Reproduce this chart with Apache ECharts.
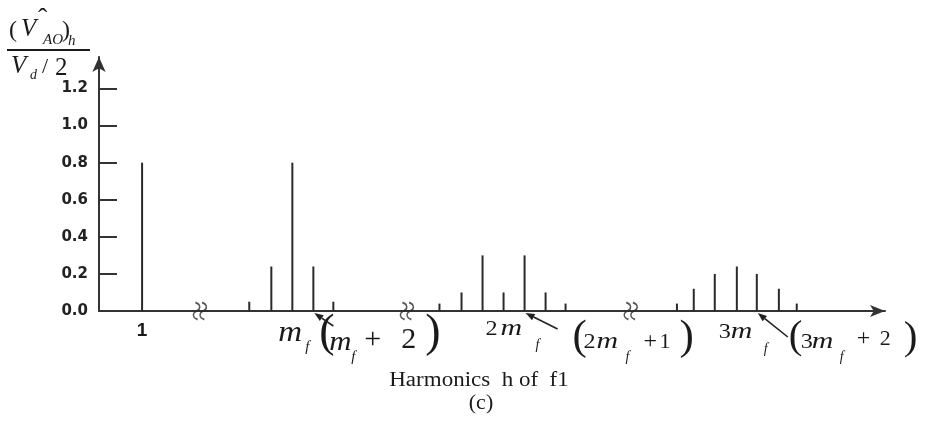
<!DOCTYPE html>
<html>
<head>
<meta charset="utf-8">
<script src="https://cdn.jsdelivr.net/npm/echarts@6/dist/echarts.min.js"></script>
<style>
html,body{margin:0;padding:0;background:#fff;}
#main{width:925px;height:421px;}
</style>
</head>
<body>
<div id="main"></div>
<script>
// positions on the broken harmonic axis (slot units) and amplitudes (V_AO)h / (Vd/2)
var fundPos = [2.05];
var fundVal = [0.8];
var mfPos = [7.15, 8.2, 9.2, 10.2, 11.15];
var mfVal = [0.05, 0.24, 0.8, 0.24, 0.05];
var mf2Pos = [16.2, 17.25, 18.25, 19.25, 20.25, 21.25, 22.2];
var mf2Val = [0.04, 0.1, 0.3, 0.1, 0.3, 0.1, 0.04];
var mf3Pos = [27.5, 28.3, 29.3, 30.35, 31.3, 32.35, 33.2];
var mf3Val = [0.04, 0.12, 0.2, 0.24, 0.2, 0.12, 0.04];
var breakPos = [4.8, 14.65, 25.3];
var yTicks = [0, 0.2, 0.4, 0.6, 0.8, 1.0, 1.2];
var xLabelPos = [2.05];
var xLabelText = ['1'];

var serif = '"Liberation Serif", "Times New Roman", serif';
var ink = '#1a1a1a';

function pairs(xs, ys) {
	return xs.map(function (x, i) { return [x, ys[i]]; });
}
var barData = [].concat(pairs(fundPos, fundVal), pairs(mfPos, mfVal), pairs(mf2Pos, mf2Val), pairs(mf3Pos, mf3Val));

var chart = echarts.init(document.getElementById('main'));
var option = {
	backgroundColor: '#fff',
	animation: false,
	grid: {left: 99, right: 40, top: 57, bottom: 110},
	xAxis: {
		type: 'value',
		min: 0,
		max: 37.4,
		splitLine: {show: false},
		axisTick: {show: false},
		axisLine: {show: true, symbol: ['none', 'arrow'], symbolSize: [9, 15], lineStyle: {color: '#333', width: 2}},
		axisLabel: {
			customValues: xLabelPos,
			margin: 10,
			fontFamily: 'Liberation Sans',
			fontWeight: 'bold',
			fontSize: 19,
			color: ink,
			formatter: function (v) { return xLabelText[xLabelPos.indexOf(v)] || ''; }
		}
	},
	yAxis: {
		type: 'value',
		min: 0,
		max: 1.37,
		splitLine: {show: false},
		axisLine: {show: true, symbol: ['none', 'arrow'], symbolSize: [10, 15], lineStyle: {color: '#333', width: 2}},
		axisTick: {show: true, inside: true, length: 18, customValues: yTicks.slice(1), lineStyle: {color: '#333', width: 2}},
		axisLabel: {
			customValues: yTicks,
			margin: 11,
			fontFamily: 'DejaVu Sans',
			fontWeight: 'bold',
			fontSize: 15,
			color: '#222',
			formatter: function (v) { return v.toFixed(1); }
		}
	},
	series: [
		{
			type: 'bar',
			data: barData,
			barWidth: 2,
			itemStyle: {color: '#2a2a2a'},
			silent: true
		},
		{
			type: 'scatter',
			data: breakPos.map(function (p) { return [p, 0]; }),
			symbol: 'path://M4,0 C9,2 9,6 5,8 C1,10 1,14 6,16 M10,0 C15,2 15,6 11,8 C7,10 7,14 12,16',
			symbolSize: [13, 17],
			itemStyle: {color: 'rgba(0,0,0,0)', borderColor: '#2a2a2a', borderWidth: 1.6},
			z: 5,
			silent: true
		}
	]
};
chart.setOption(option);

function px(x, y) { return chart.convertToPixel({gridIndex: 0}, [x, y]); }

function txt(x, base, s, size, italic, sx, align) {
	return {
		type: 'text', x: x, y: base - 0.34 * size, scaleX: sx || 1, silent: true,
		style: {text: s, fontFamily: serif, fontSize: size, fontStyle: italic ? 'italic' : 'normal',
			fill: ink, align: align || 'left', verticalAlign: 'middle'}
	};
}

function arrow(tip, tail) {
	var dx = tip[0] - tail[0], dy = tip[1] - tail[1];
	var L = Math.sqrt(dx * dx + dy * dy), ux = dx / L, uy = dy / L;
	var hl = 9, hw = 3.5;
	var bx = tip[0] - ux * hl, by = tip[1] - uy * hl;
	return [
		{type: 'line', silent: true, shape: {x1: tail[0], y1: tail[1], x2: bx, y2: by}, style: {stroke: '#222', lineWidth: 1.6}},
		{type: 'polygon', silent: true, shape: {points: [tip, [bx - uy * hw, by + ux * hw], [bx + uy * hw, by - ux * hw]]}, style: {fill: '#222'}}
	];
}

var y0 = px(0, 0)[1];
var a = px(mfPos[2], 0)[0], a2 = px(mfPos[3], 0)[0];
var b = px(mf2Pos[3], 0)[0], b1 = px(mf2Pos[4], 0)[0];
var c = px(mf3Pos[3], 0)[0], c2 = px(mf3Pos[4], 0)[0];

var g = [];
// y axis title: (V^_AO)_h over Vd/2
g.push(txt(9, 39, '(', 24, false));
g.push(txt(21, 38, 'V', 25, true));
g.push(txt(38, 29, 'ˆ', 28, false));
g.push(txt(43, 45, 'AO', 15, true));
g.push(txt(62, 39, ')', 24, false));
g.push(txt(68, 46, 'h', 15, true));
g.push({type: 'line', silent: true, shape: {x1: 7, y1: 50, x2: 90, y2: 50}, style: {stroke: ink, lineWidth: 2}});
g.push(txt(11, 75, 'V', 25, true));
g.push(txt(30, 80, 'd', 14, true));
g.push(txt(42, 75, '/', 22, false));
g.push(txt(55, 77, '2', 25, false));

// m_f  (m_f + 2)
g.push(txt(a - 14, y0 + 32, 'm', 30, true, 1.1));
g.push(txt(a + 13, y0 + 41, 'f', 15, true));
g.push(txt(a + 27, y0 + 39, '(', 46, false));
g.push(txt(a + 37, y0 + 41, 'm', 28, true, 1.1));
g.push(txt(a + 59, y0 + 51, 'f', 15, true));
g.push(txt(a + 72, y0 + 39, '+', 30, false));
g.push(txt(a + 109, y0 + 39, '2', 30, false));
g.push(txt(a + 133, y0 + 39, ')', 46, false));

// 2m_f  (2m_f + 1)
g.push(txt(b - 18, y0 + 26, '2', 22, false, 1.1));
g.push(txt(b - 3, y0 + 26, 'm', 23, true, 1.3));
g.push(txt(b + 32, y0 + 39, 'f', 14, true));
g.push(txt(b + 69, y0 + 41, '(', 43, false));
g.push(txt(b + 80, y0 + 39, '2', 22, false, 1.1));
g.push(txt(b + 93, y0 + 39, 'm', 23, true, 1.3));
g.push(txt(b + 122, y0 + 51, 'f', 14, true));
g.push(txt(b + 140, y0 + 39, '+', 24, false));
g.push(txt(b + 156, y0 + 39, '1', 22, false));
g.push(txt(b + 176, y0 + 41, ')', 43, false));

// 3m_f  (3m_f + 2)
g.push(txt(c - 18, y0 + 29, '3', 22, false, 1.1));
g.push(txt(c - 6, y0 + 29, 'm', 23, true, 1.3));
g.push(txt(c + 27, y0 + 43, 'f', 14, true));
g.push(txt(c + 52, y0 + 40, '(', 41, false));
g.push(txt(c + 64, y0 + 39, '3', 22, false, 1.1));
g.push(txt(c + 75, y0 + 39, 'm', 23, true, 1.3));
g.push(txt(c + 103, y0 + 51, 'f', 14, true));
g.push(txt(c + 120, y0 + 36, '+', 24, false));
g.push(txt(c + 143, y0 + 36, '2', 22, false));
g.push(txt(c + 167, y0 + 41, ')', 41, false));

// arrows pointing at the side-band lines
g = g.concat(arrow([a2 + 1, y0 + 2], [a2 + 20, y0 + 15]));
g = g.concat(arrow([b1 + 1, y0 + 2], [b1 + 33, y0 + 18]));
g = g.concat(arrow([c2 + 1, y0 + 2], [c2 + 31, y0 + 26]));

// axis caption
g.push(txt(479, 388, 'Harmonics  h of  f1', 20, false, 1.15, 'center'));
g.push(txt(481, 411, '(c)', 20, false, 1.1, 'center'));

chart.setOption({graphic: g});
</script>
</body>
</html>
